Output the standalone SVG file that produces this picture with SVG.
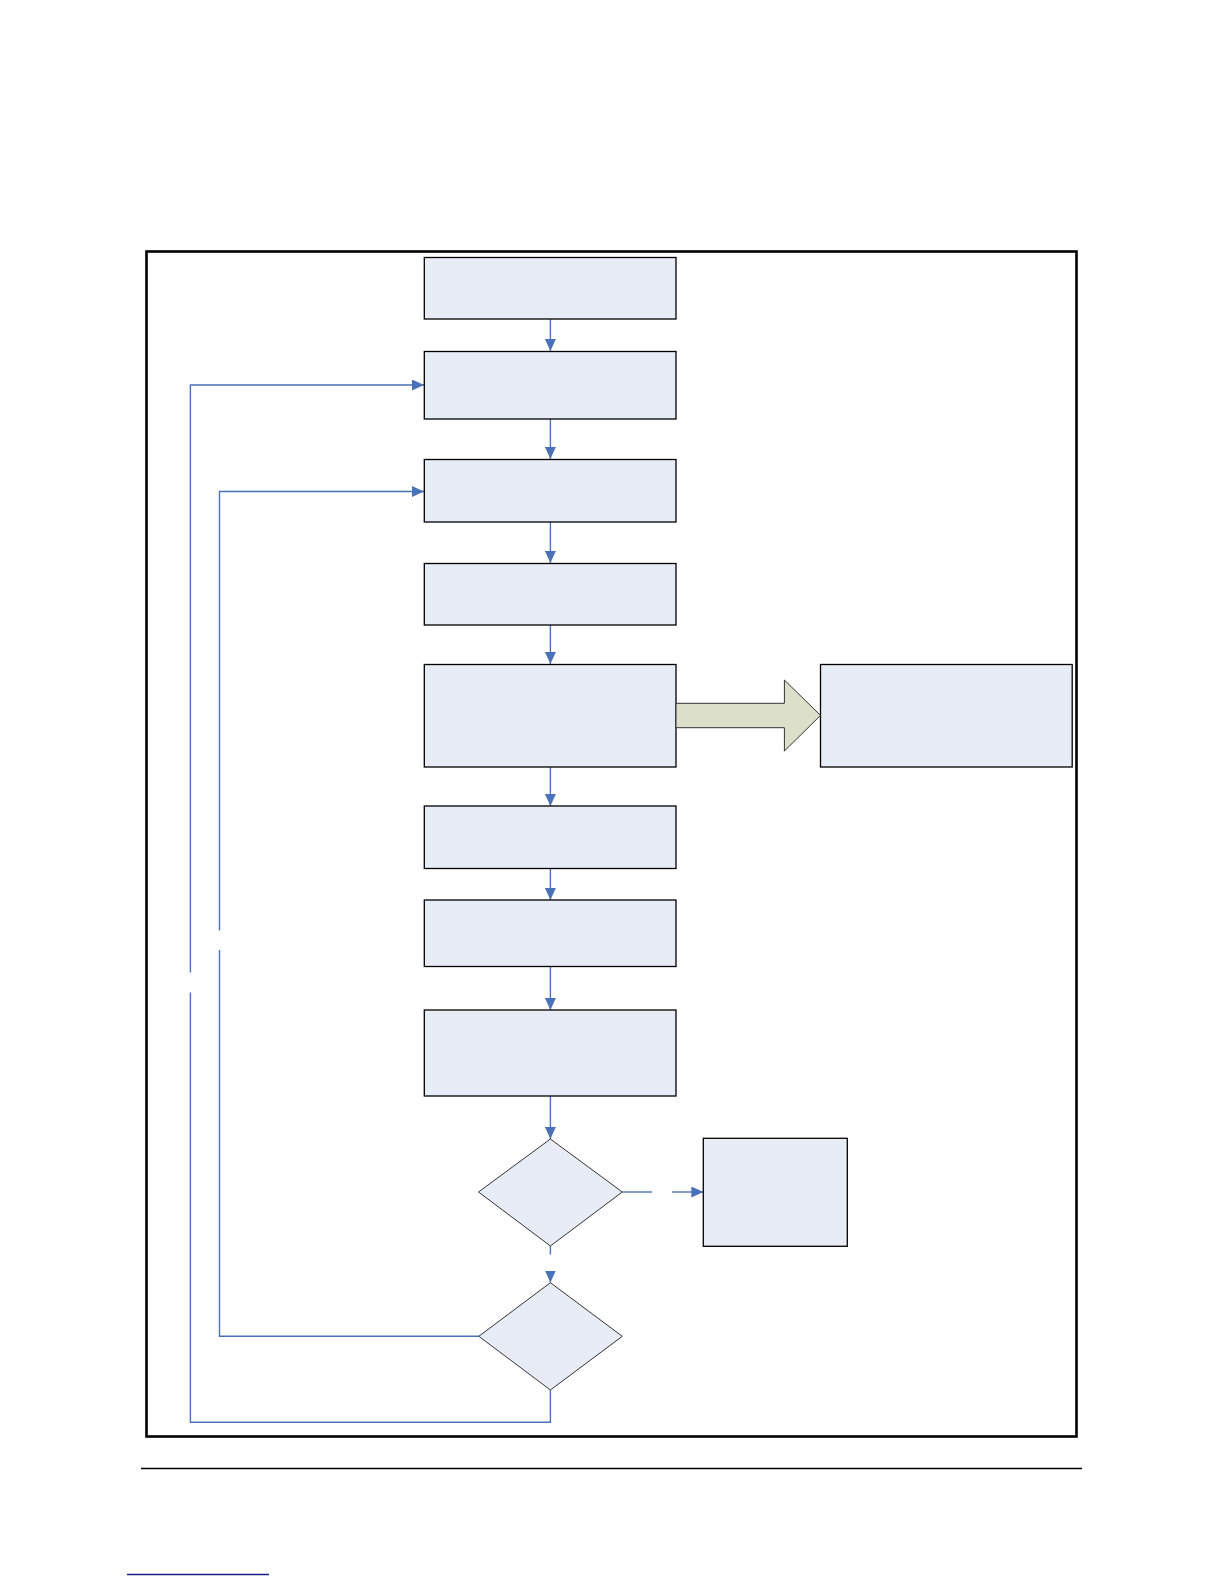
<svg xmlns="http://www.w3.org/2000/svg" width="1224" height="1584" viewBox="0 0 1224 1584">
  <style>
    .box { fill: #E8ECF6; stroke: #000000; stroke-width: 1.3; }
    .dia { fill: #E8ECF6; stroke: #333333; stroke-width: 1; }
    .con { fill: none; stroke: #4A72B8; stroke-width: 1.4; }
  </style>
  <defs>
    <marker id="ah" viewBox="0 0 12 11" refX="12" refY="5.5" markerWidth="12" markerHeight="11" markerUnits="userSpaceOnUse" orient="auto">
      <path d="M0,0 L12,5.5 L0,11 Z" fill="#4A72B8"/>
    </marker>
  </defs>
  <rect width="1224" height="1584" fill="#FFFFFF"/>
  <g id="frame">
    <rect x="146.5" y="251.5" width="930" height="1185" fill="none" stroke="#000000" stroke-width="2.6"/>
  </g>
  <g id="footer">
    <line x1="141" y1="1468.5" x2="1082" y2="1468.5" stroke="#000000" stroke-width="1.4"/>
    <line x1="127" y1="1574.5" x2="269" y2="1574.5" stroke="#1F1F8A" stroke-width="1.4"/>
  </g>
  <g id="connectors">
    <line class="con" x1="550.4" y1="319" x2="550.4" y2="351" marker-end="url(#ah)"/>
    <line class="con" x1="550.4" y1="419" x2="550.4" y2="459" marker-end="url(#ah)"/>
    <line class="con" x1="550.4" y1="522" x2="550.4" y2="563" marker-end="url(#ah)"/>
    <line class="con" x1="550.4" y1="625" x2="550.4" y2="664" marker-end="url(#ah)"/>
    <line class="con" x1="550.4" y1="767" x2="550.4" y2="806" marker-end="url(#ah)"/>
    <line class="con" x1="550.4" y1="868.5" x2="550.4" y2="900" marker-end="url(#ah)"/>
    <line class="con" x1="550.4" y1="966.5" x2="550.4" y2="1010" marker-end="url(#ah)"/>
    <line class="con" x1="550.4" y1="1096" x2="550.4" y2="1139" marker-end="url(#ah)"/>
    <line class="con" x1="550.4" y1="1246" x2="550.4" y2="1254.5"/>
    <line class="con" x1="550.4" y1="1271" x2="550.4" y2="1282.5" marker-end="url(#ah)"/>
    <line class="con" x1="622.3" y1="1192" x2="652" y2="1192"/>
    <line class="con" x1="672" y1="1192" x2="703.3" y2="1192" marker-end="url(#ah)"/>
    <polyline class="con" points="478.8,1336.3 219.5,1336.3 219.5,950"/>
    <polyline class="con" points="219.5,930.5 219.5,491.5 424,491.5" marker-end="url(#ah)"/>
    <polyline class="con" points="550.4,1390 550.4,1422.3 190.4,1422.3 190.4,992.5"/>
    <polyline class="con" points="190.4,972.5 190.4,385 424,385" marker-end="url(#ah)"/>
  </g>
  <g id="n1"><rect class="box" x="424.3" y="257.5" width="251.7" height="61.5"/></g>
  <g id="n2"><rect class="box" x="424.3" y="351.5" width="251.7" height="67.5"/></g>
  <g id="n3"><rect class="box" x="424.3" y="459.5" width="251.7" height="62.5"/></g>
  <g id="n4"><rect class="box" x="424.3" y="563.5" width="251.7" height="61.5"/></g>
  <g id="n5"><rect class="box" x="424.3" y="664.5" width="251.7" height="102.5"/></g>
  <g id="n6"><rect class="box" x="424.3" y="806" width="251.7" height="62.5"/></g>
  <g id="n7"><rect class="box" x="424.3" y="900" width="251.7" height="66.5"/></g>
  <g id="n8"><rect class="box" x="424.3" y="1010" width="251.7" height="86"/></g>
  <g id="side"><rect class="box" x="820.5" y="664.5" width="251.7" height="102.5"/></g>
  <g id="blockarrow">
    <polygon points="676,703.3 784.4,703.3 784.4,680 820.5,715.4 784.4,751 784.4,727.7 676,727.7" fill="#DCE0CA" stroke="#333333" stroke-width="1"/>
  </g>
  <g id="d1"><polygon class="dia" points="550.4,1139 622.3,1192 550.4,1246 478.5,1192"/></g>
  <g id="n9"><rect class="box" x="703.3" y="1138.3" width="144" height="108"/></g>
  <g id="d2"><polygon class="dia" points="550.4,1282.7 622.3,1336.3 550.4,1390 478.8,1336.3"/></g>
</svg>
